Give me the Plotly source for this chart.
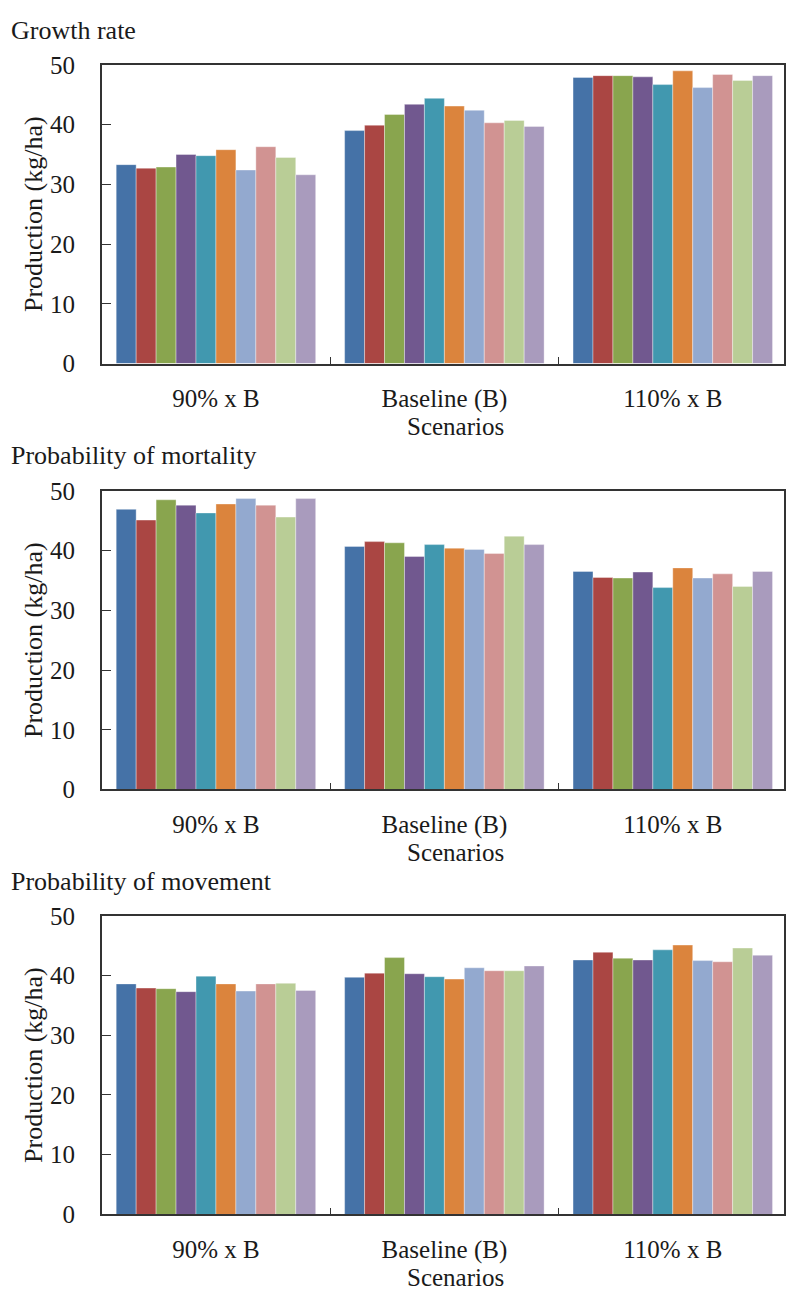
import plotly.graph_objects as go

# Scenario categories along the x axis
scenarios = ["90% x B", "Baseline (B)", "110% x B"]

# Panel titles
panel_titles = ["Growth rate", "Probability of mortality", "Probability of movement"]

# Production (kg/ha) for the ten runs, one list per scenario, per panel
growth_90 = [33.3, 32.7, 32.9, 35.0, 34.8, 35.8, 32.4, 36.3, 34.5, 31.6]
growth_base = [39.0, 39.9, 41.7, 43.4, 44.4, 43.1, 42.4, 40.3, 40.7, 39.7]
growth_110 = [47.9, 48.2, 48.2, 48.0, 46.7, 49.0, 46.2, 48.4, 47.4, 48.2]

mortality_90 = [46.9, 45.1, 48.5, 47.6, 46.3, 47.8, 48.7, 47.6, 45.6, 48.7]
mortality_base = [40.7, 41.5, 41.3, 39.0, 41.0, 40.4, 40.2, 39.5, 42.4, 41.0]
mortality_110 = [36.5, 35.5, 35.4, 36.4, 33.8, 37.1, 35.4, 36.1, 34.0, 36.5]

movement_90 = [38.6, 37.9, 37.8, 37.3, 39.9, 38.6, 37.4, 38.6, 38.7, 37.5]
movement_base = [39.7, 40.4, 43.0, 40.3, 39.8, 39.4, 41.3, 40.8, 40.8, 41.6]
movement_110 = [42.6, 43.9, 42.9, 42.6, 44.3, 45.1, 42.5, 42.3, 44.6, 43.4]

y_ticks = [0, 10, 20, 30, 40, 50]

series_colors = ["#4572A7", "#AA4643", "#89A54E", "#71588F", "#4198AF",
                 "#DB843D", "#93A9CF", "#D19392", "#B9CD96", "#A99BBD"]

panels = [
    (growth_90, growth_base, growth_110),
    (mortality_90, mortality_base, mortality_110),
    (movement_90, movement_base, movement_110),
]

W, H = 786, 1297
FONT = "Liberation Serif, Times New Roman, serif"
TXT = "#1a1a1a"
# pixel positions of each plot box (top, bottom)
boxes = [(53, 358), (488, 793), (922, 1227)]
title_y = [18, 452, 887]
left_px = 102
cat_px = 229.0

fig = go.Figure()
x_hi = -0.5 + (W - left_px) / cat_px

for p, (g90, gb, g110) in enumerate(panels):
    xa = "x" if p == 0 else f"x{p + 1}"
    ya = "y" if p == 0 else f"y{p + 1}"
    for s in range(10):
        fig.add_trace(go.Bar(
            x=scenarios,
            y=[g90[s], gb[s], g110[s]],
            name=f"Run {s + 1}",
            marker=dict(color=series_colors[s], line=dict(color="rgba(255,255,255,0.6)", width=0.6)),
            xaxis=xa, yaxis=ya, showlegend=False,
        ))
    top, bot = boxes[p]
    dom = [(H - bot) / H, (H - top) / H]
    axis_common = dict(showline=True, linecolor="#333333", linewidth=1.5, mirror=True,
                       showgrid=False, zeroline=False)
    fig.layout[("xaxis" if p == 0 else f"xaxis{p + 1}")] = dict(
        domain=[left_px / W, 1], anchor=ya, range=[-0.5, x_hi],
        type="category", ticks="inside", tickson="boundaries", ticklen=7,
        tickcolor="#333333", tickwidth=1.2,
        tickfont=dict(family=FONT, size=25, color=TXT), ticklabelstandoff=12,
        **axis_common)
    fig.layout[("yaxis" if p == 0 else f"yaxis{p + 1}")] = dict(
        domain=dom, anchor=xa, range=[0, 50], tickvals=y_ticks,
        ticks="inside", ticklen=10, tickcolor="#333333", tickwidth=1.2,
        tickfont=dict(family=FONT, size=25, color=TXT), ticklabelstandoff=20,
        title=dict(text="Production (kg/ha)", font=dict(family=FONT, size=26, color=TXT),
                   standoff=0),
        **axis_common)
    fig.add_annotation(text=panel_titles[p], xref="paper", yref="paper",
                       x=9 / W, y=(H - title_y[p]) / H, xanchor="left", yanchor="middle",
                       showarrow=False, font=dict(family=FONT, size=26, color=TXT))
    fig.add_annotation(text="Scenarios", xref="paper", yref="paper",
                       x=457 / W, y=(H - (bot + 64)) / H, xanchor="center", yanchor="middle",
                       showarrow=False, font=dict(family=FONT, size=25, color=TXT))

fig.update_layout(
    width=W, height=H, margin=dict(l=0, r=0, t=0, b=0),
    barmode="group", bargap=29 / 229, bargroupgap=0,
    plot_bgcolor="white", paper_bgcolor="white",
)

fig.write_html("out.html")
